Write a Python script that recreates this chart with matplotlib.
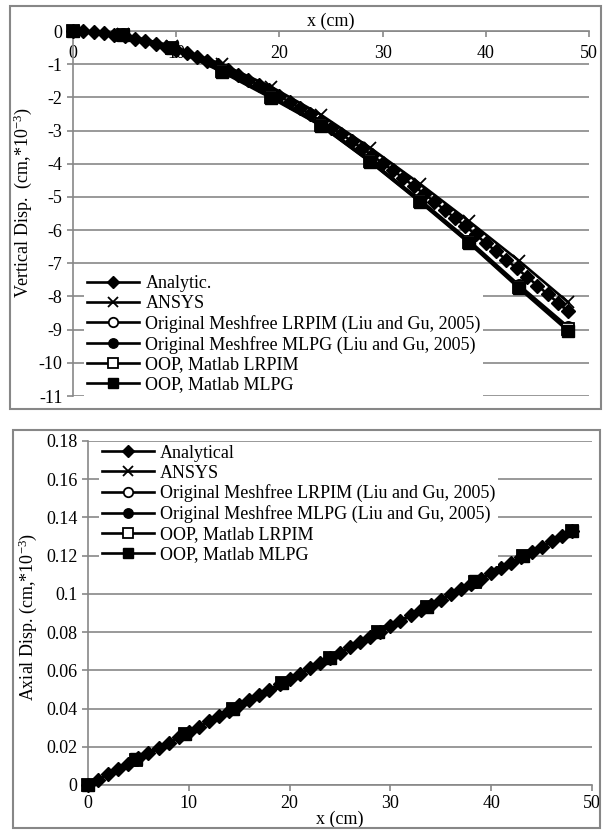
import matplotlib
matplotlib.use("Agg")
import matplotlib.pyplot as plt
from matplotlib.patches import Rectangle
import numpy as np

plt.rcParams['font.family'] = ['Liberation Serif', 'DejaVu Serif']
plt.rcParams['mathtext.fontset'] = 'custom'
plt.rcParams['mathtext.rm'] = 'Liberation Serif'
plt.rcParams['mathtext.it'] = 'Liberation Serif:italic'
plt.rcParams['axes.unicode_minus'] = False

# x positions (cm)
x_dense = np.arange(0, 49)
x_nodes = [0, 4.8, 9.6, 14.4, 19.2, 24.0, 28.8, 33.6, 38.4, 43.2, 48.0]

# vertical displacement (cm*1e-3)
vert_analytic = [0, -0.01, -0.04, -0.07, -0.11, -0.16, -0.23, -0.30, -0.38, -0.47,
                 -0.56, -0.67, -0.78, -0.91, -1.03, -1.17, -1.32, -1.47, -1.63, -1.79,
                 -1.96, -2.14, -2.32, -2.51, -2.71, -2.91, -3.11, -3.32, -3.53, -3.75,
                 -3.98, -4.20, -4.43, -4.67, -4.90, -5.14, -5.39, -5.63, -5.88, -6.13,
                 -6.39, -6.64, -6.90, -7.15, -7.41, -7.67, -7.93, -8.19, -8.45]
vert_ansys = [0, -0.10, -0.45, -1.00, -1.68, -2.52, -3.52, -4.60, -5.74, -6.92, -8.18]
vert_lrpim_orig = [0, -0.10, -0.50, -1.18, -1.96, -2.80, -3.90, -5.08, -6.32, -7.65, -8.92]
vert_mlpg_orig = [0, -0.11, -0.52, -1.20, -1.99, -2.84, -3.94, -5.13, -6.38, -7.72, -9.00]
vert_lrpim_oop = [0, -0.11, -0.51, -1.19, -1.98, -2.82, -3.92, -5.11, -6.36, -7.70, -8.97]
vert_mlpg_oop = [0, -0.12, -0.51, -1.23, -2.02, -2.85, -3.95, -5.15, -6.40, -7.75, -9.05]

# axial displacement (cm*1e-3)
axial_analytic = [0, .0028, .0055, .0083, .0111, .0139, .0166, .0194, .0222, .0249,
                  .0277, .0305, .0333, .0360, .0388, .0416, .0443, .0471, .0499, .0526,
                  .0554, .0582, .0610, .0637, .0665, .0693, .0720, .0748, .0776, .0803,
                  .0831, .0859, .0887, .0914, .0942, .0970, .0997, .1025, .1053, .1080,
                  .1108, .1136, .1164, .1191, .1219, .1247, .1274, .1302, .1330]
axial_ansys = [0, .0133, .0266, .0399, .0532, .0665, .0798, .0931, .1064, .1197, .1330]
axial_lrpim_orig = [0, .0133, .0266, .0399, .0532, .0665, .0798, .0931, .1064, .1197, .1330]
axial_mlpg_orig = [0, .0133, .0266, .0399, .0532, .0665, .0798, .0931, .1064, .1197, .1330]
axial_lrpim_oop = [0, .0133, .0266, .0399, .0532, .0665, .0798, .0931, .1064, .1197, .1330]
axial_mlpg_oop = [0, .0134, .0267, .0400, .0533, .0666, .0799, .0932, .1065, .1198, .1331]

labels_top = ["Analytic.", "ANSYS",
              "Original Meshfree LRPIM (Liu and Gu, 2005)",
              "Original Meshfree MLPG (Liu and Gu, 2005)",
              "OOP, Matlab LRPIM", "OOP, Matlab MLPG"]
labels_bottom = ["Analytical"] + labels_top[1:]

GRAY = "#878787"
LW = 1.9
FS = 13


def draw_series(ax, x_d, y_an, ys, labels):
    ax.plot(x_d, y_an, color='k', lw=LW, marker='D', ms=7, label=labels[0],
            clip_on=False, zorder=3)
    ax.plot(x_nodes, ys[0], color='k', lw=LW, marker='x', ms=9, mew=1.3,
            label=labels[1], clip_on=False, zorder=2.5)
    ax.plot(x_nodes, ys[1], color='k', lw=LW, marker='o', ms=8, mfc='white',
            mew=1.3, label=labels[2], clip_on=False, zorder=3.1)
    ax.plot(x_nodes, ys[2], color='k', lw=LW, marker='o', ms=8,
            label=labels[3], clip_on=False, zorder=3.2)
    ax.plot(x_nodes, ys[3], color='k', lw=LW, marker='s', ms=8, mfc='white',
            mew=1.3, label=labels[4], clip_on=False, zorder=3.3)
    ax.plot(x_nodes, ys[4], color='k', lw=LW, marker='s', ms=9,
            label=labels[5], clip_on=False, zorder=3.4)


def style_axes(ax):
    ax.grid(axis='y', color=GRAY, lw=1.2)
    ax.set_axisbelow(True)
    for s in ax.spines.values():
        s.set_color(GRAY)
        s.set_linewidth(1.2)
    ax.tick_params(colors=GRAY, labelcolor='black', labelsize=FS, width=1.2,
                   length=4)


def add_legend(ax, loc, anchor):
    leg = ax.legend(loc=loc, bbox_to_anchor=anchor, fontsize=FS,
                    handlelength=2.9, handletextpad=0.33, labelspacing=0.16,
                    borderpad=0.15, borderaxespad=0.0, markerscale=0.85,
                    fancybox=False, framealpha=1, edgecolor='none')
    leg.set_zorder(5)
    return leg


fig = plt.figure(figsize=(6.09, 8.32), dpi=100)

# outer frames
fig.patches.append(Rectangle((0.0164, 0.5084), 0.9704, 0.4844, transform=fig.transFigure,
                             fill=False, edgecolor=GRAY, lw=1.5))
fig.patches.append(Rectangle((0.0213, 0.0048), 0.9639, 0.4780, transform=fig.transFigure,
                             fill=False, edgecolor=GRAY, lw=1.5))

# top chart
ax1 = fig.add_axes([0.1199, 0.524, 0.8473, 0.4387])
draw_series(ax1, x_dense, vert_analytic,
            [vert_ansys, vert_lrpim_orig, vert_mlpg_orig, vert_lrpim_oop, vert_mlpg_oop],
            labels_top)
ax1.set_xlim(0, 50)
ax1.set_ylim(-11, 0)
ax1.set_yticks(range(-11, 1))
ax1.set_xticks(range(0, 51, 10))
style_axes(ax1)
ax1.spines['bottom'].set_visible(False)
ax1.spines['right'].set_visible(False)
ax1.xaxis.tick_top()
ax1.tick_params(axis='x', direction='in', pad=-22)
ax1.xaxis.set_label_position('top')
ax1.set_xlabel("x (cm)", fontsize=FS, labelpad=4)
ax1.set_ylabel("Vertical Disp.  (cm,*10$^{-3}$)", fontsize=FS)
ax1.yaxis.set_label_coords(-0.076, 0.53)
add_legend(ax1, 'lower left', (0.022, 0.0))

# bottom chart
ax2 = fig.add_axes([0.1445, 0.0565, 0.8276, 0.4135])
draw_series(ax2, x_dense, axial_analytic,
            [axial_ansys, axial_lrpim_orig, axial_mlpg_orig, axial_lrpim_oop, axial_mlpg_oop],
            labels_bottom)
ax2.set_xlim(0, 50)
ax2.set_ylim(0, 0.18)
ax2.set_yticks(np.arange(0, 0.181, 0.02))
ax2.set_yticklabels(["0", "0.02", "0.04", "0.06", "0.08", "0.1", "0.12", "0.14", "0.16", "0.18"])
ax2.set_xticks(range(0, 51, 10))
style_axes(ax2)
ax2.spines['top'].set_visible(False)
ax2.spines['right'].set_visible(False)
ax2.set_xlabel("x (cm)", fontsize=FS, labelpad=-1)
ax2.set_ylabel("Axial Disp. (cm,*10$^{-3}$)", fontsize=FS)
ax2.yaxis.set_label_coords(-0.097, 0.49)
add_legend(ax2, 'upper left', (0.022, 0.997))

fig.savefig("out.png", dpi=100)
plt.close(fig)
